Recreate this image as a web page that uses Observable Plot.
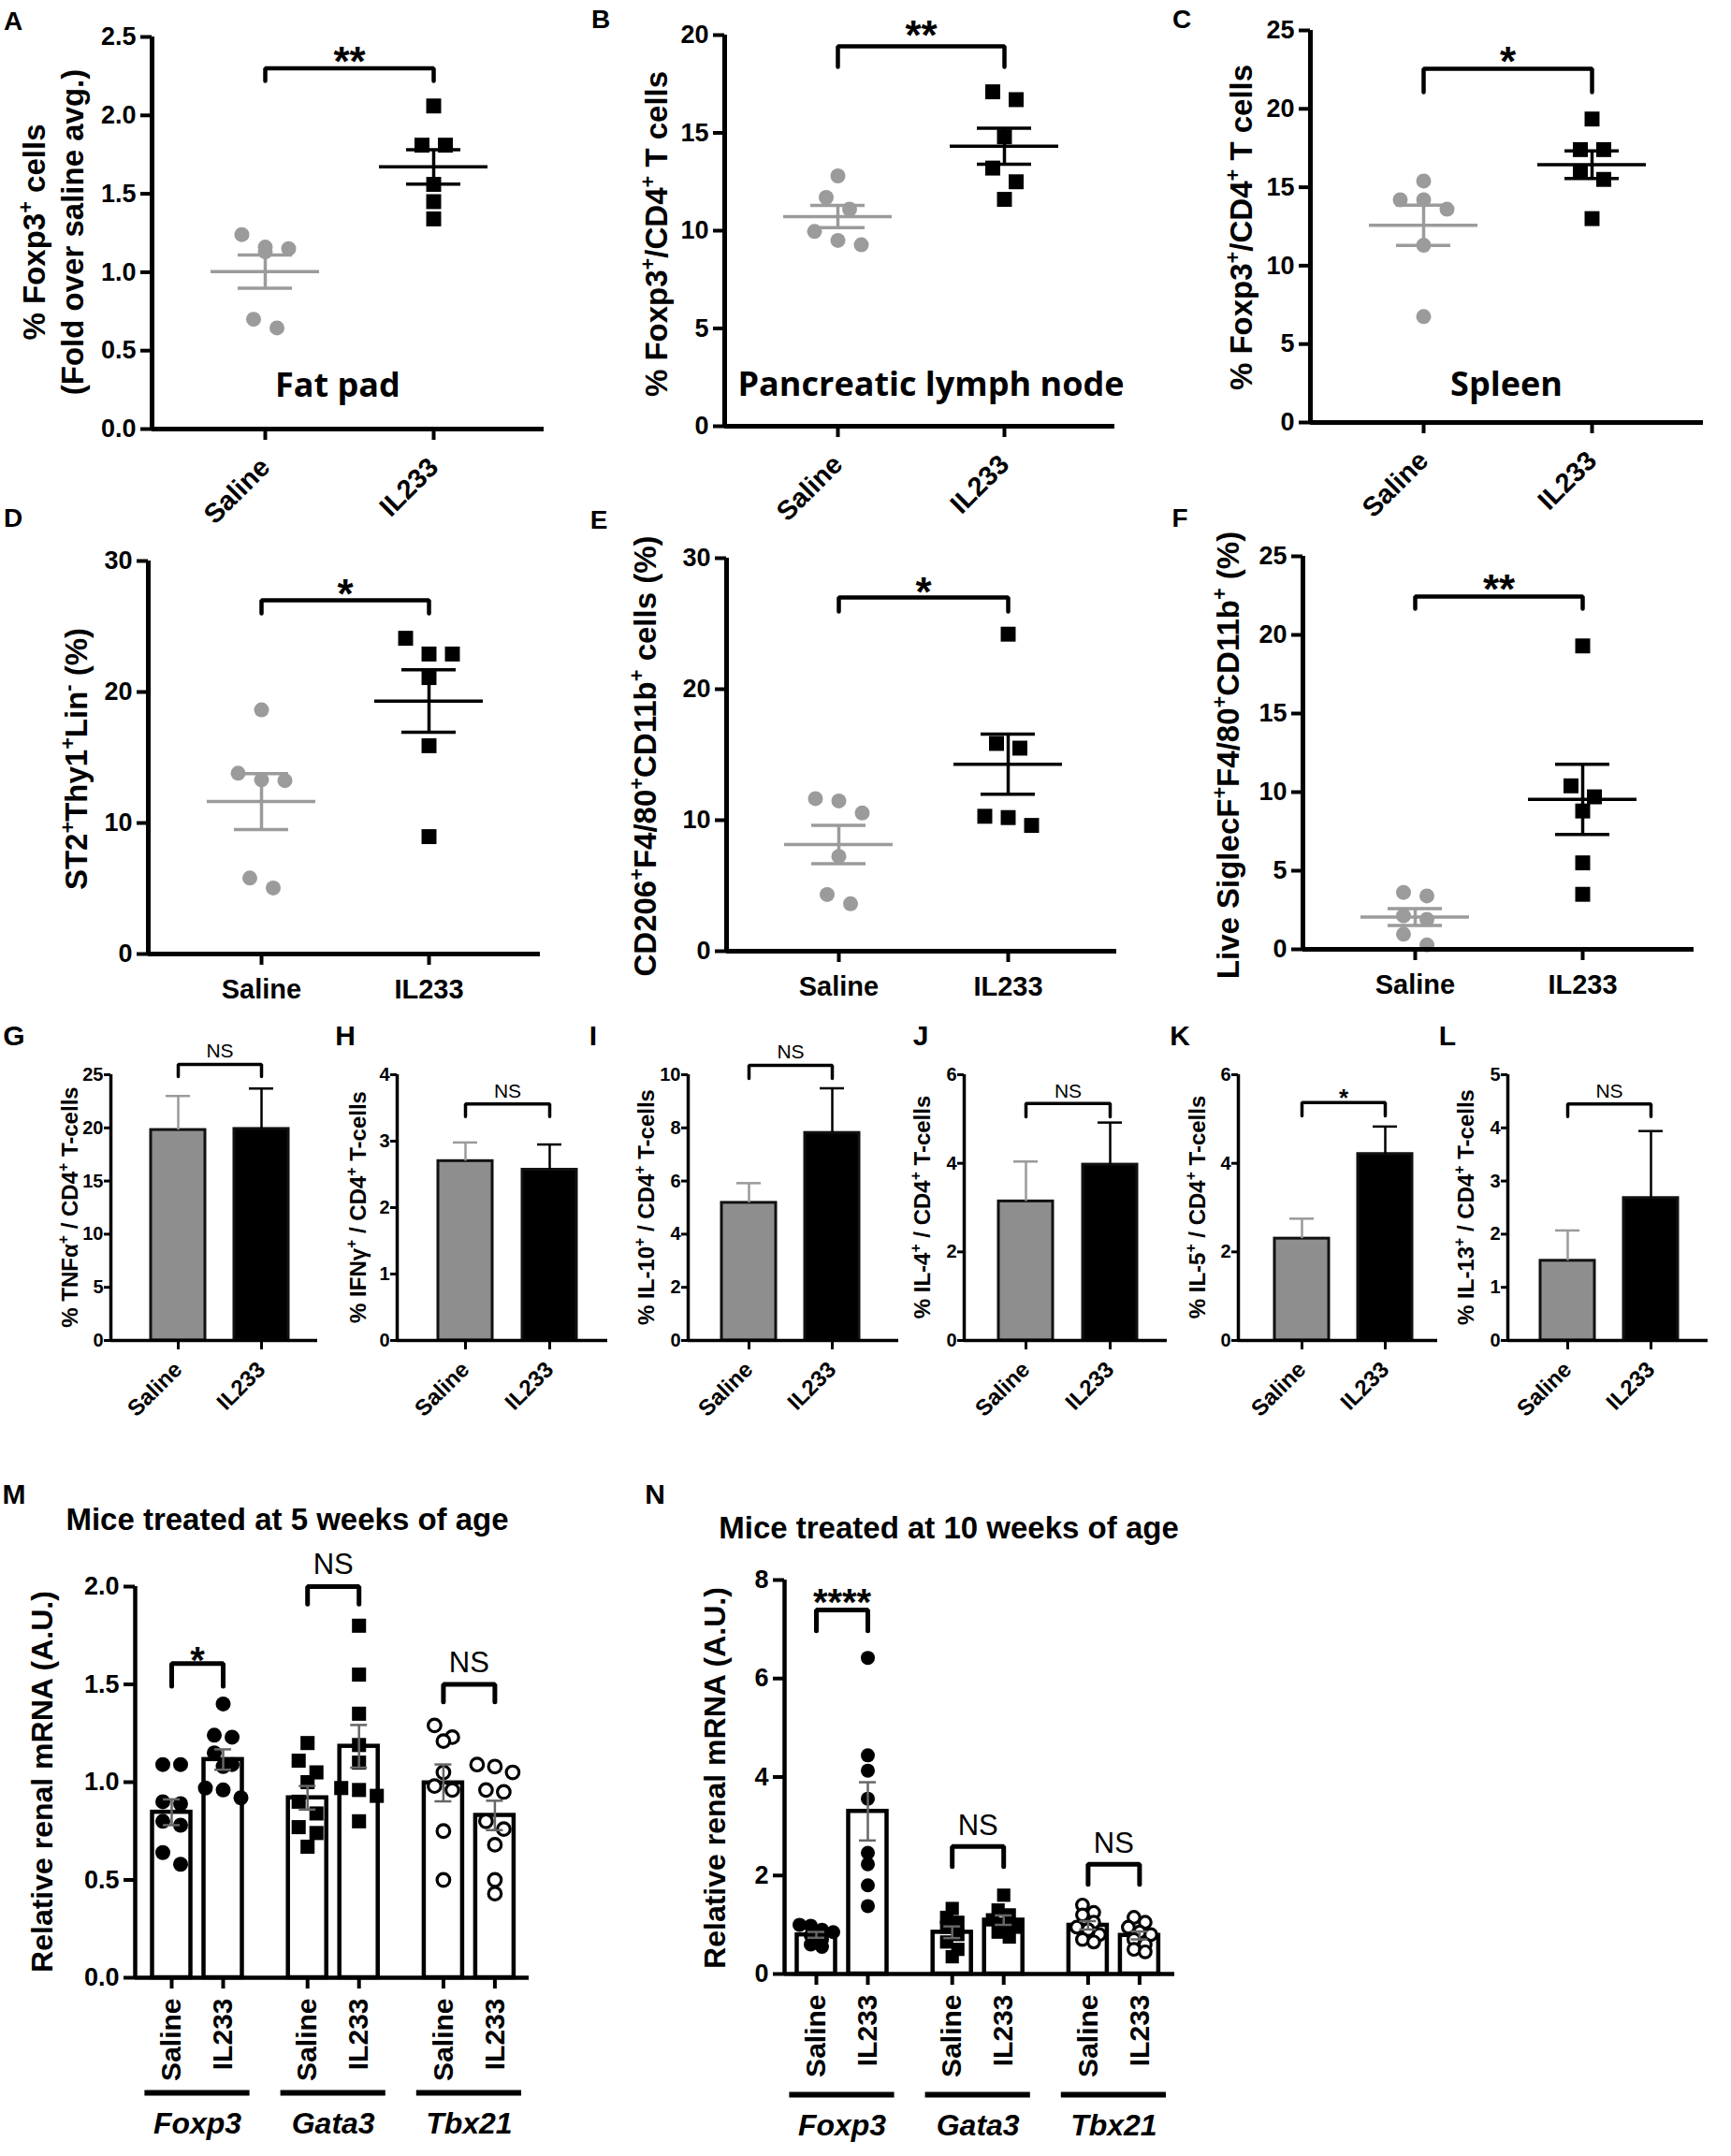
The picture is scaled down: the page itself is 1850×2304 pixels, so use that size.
<!DOCTYPE html>
<html>
<head>
<meta charset="utf-8">
<title>IL233 immune cell figure</title>
<script src="https://cdn.jsdelivr.net/npm/d3@7"></script>
<script src="https://cdn.jsdelivr.net/npm/@observablehq/plot@0.6"></script>
<style>
  html, body { margin: 0; padding: 0; background: #fff; }
  #fig { position: relative; width: 1850px; height: 2304px; background: #fff; overflow: hidden; }
  .panel { position: absolute; }
  .panel svg { display: block; max-width: none !important; }
</style>
</head>
<body>
<div id="fig"></div>
<script>
// ================= DATA =================
const groups = ["Saline", "IL233"];

// A–F : individual animals
const fatPadSaline = [1.24, 1.15, 1.13, 1.16, 0.70, 0.645];
const fatPadIL233  = [2.06, 1.81, 1.81, 1.56, 1.45, 1.34];
const plnSaline    = [12.8, 11.7, 11.1, 9.96, 9.5, 9.28];
const plnIL233     = [17.1, 16.7, 14.8, 13.2, 12.5, 11.6];
const spleenSaline = [15.4, 14.2, 14.2, 13.6, 11.3, 6.75];
const spleenIL233  = [19.35, 17.4, 17.4, 16.0, 15.5, 13.0];
const ilc2Saline   = [18.64, 13.3, 13.24, 13.8, 5.8, 5.04];
const ilc2IL233    = [24.1, 22.9, 22.9, 21.1, 15.9, 8.96];
const m2Saline     = [11.65, 11.47, 10.55, 7.24, 4.33, 3.62];
const m2IL233      = [24.2, 15.86, 15.5, 10.2, 10.3, 9.6];
const eosSaline    = [3.62, 3.4, 2.13, 1.91, 0.96, 0.28];
const eosIL233     = [19.3, 10.4, 9.7, 8.8, 5.5, 3.5];

// G–L : cytokine bars (mean, SEM)
const cytokines      = ["TNFα", "IFNγ", "IL-10", "IL-4", "IL-5", "IL-13"];
const cytoSalineMean = [19.8, 2.70, 5.18, 3.14, 2.30, 1.50];
const cytoSalineSEM  = [3.2, 0.28, 0.74, 0.90, 0.45, 0.57];
const cytoIL233Mean  = [19.9, 2.57, 7.81, 3.97, 4.21, 2.68];
const cytoIL233SEM   = [3.8, 0.38, 1.68, 0.95, 0.62, 1.26];
const cytoSig        = ["NS", "NS", "NS", "NS", "*", "NS"];

// M, N : renal mRNA
const genes = ["Foxp3", "Gata3", "Tbx21"];
const wk5Foxp3Saline  = [1.09, 1.09, 0.90, 0.89, 0.80, 0.78, 0.64, 0.58];
const wk5Foxp3IL233   = [1.40, 1.24, 1.23, 1.15, 1.09, 1.08, 0.97, 0.96, 0.92];
const wk5Gata3Saline  = [1.20, 1.11, 1.05, 1.00, 0.90, 0.84, 0.77, 0.74, 0.67];
const wk5Gata3IL233   = [1.80, 1.55, 1.35, 1.19, 1.10, 0.97, 0.96, 0.93, 0.80];
const wk5Tbx21Saline  = [1.29, 1.23, 1.21, 1.05, 0.98, 0.96, 0.75, 0.50];
const wk5Tbx21IL233   = [1.09, 1.08, 1.05, 0.96, 0.95, 0.80, 0.76, 0.68, 0.50, 0.43];
const wk10Foxp3Saline = [1.00, 0.98, 0.90, 0.85, 0.78, 0.70, 0.60, 0.55];
const wk10Foxp3IL233  = [6.42, 4.44, 4.13, 3.56, 2.46, 2.23, 1.80, 1.38];
const wk10Gata3Saline = [1.33, 1.15, 1.05, 0.95, 0.80, 0.65, 0.50, 0.35];
const wk10Gata3IL233  = [1.60, 1.30, 1.20, 1.10, 1.00, 0.95, 0.85, 0.75];
const wk10Tbx21Saline = [1.40, 1.25, 1.20, 1.05, 0.95, 0.90, 0.80, 0.70, 0.65];
const wk10Tbx21IL233  = [1.15, 1.05, 0.95, 0.85, 0.80, 0.70, 0.60, 0.50, 0.45];

// tick values
const ticksA = [0, 0.5, 1, 1.5, 2, 2.5];
const ticksB = [0, 5, 10, 15, 20];
const ticksC = [0, 5, 10, 15, 20, 25];
const ticksDE = [0, 10, 20, 30];
const ticksF = [0, 5, 10, 15, 20, 25];
const ticksCyto = [[0, 5, 10, 15, 20, 25], [0, 1, 2, 3, 4], [0, 2, 4, 6, 8, 10], [0, 2, 4, 6], [0, 2, 4, 6], [0, 1, 2, 3, 4, 5]];
const ticksM = [0, 0.5, 1, 1.5, 2];
const ticksN = [0, 2, 4, 6, 8];

// ================= HELPERS =================
const SANS = "'Liberation Sans', Arial, Helvetica, sans-serif";
const fig = document.getElementById("fig");
const baseStyle = {fontFamily: SANS, fontWeight: "bold", background: "transparent", overflow: "visible", color: "#000"};

function mount(svg, L, T, W) {
  const div = document.createElement("div");
  div.className = "panel";
  div.style.left = L + "px";
  div.style.top = T + "px";
  div.style.width = W + "px";
  div.appendChild(svg);
  fig.appendChild(div);
}

// row-based symmetric scatter (GraphPad-like), returns pixel offsets
function swarm(values, pxY, T, s) {
  const order = d3.range(values.length).sort((a, b) => values[b] - values[a]);
  const off = new Array(values.length).fill(0);
  let row = [];
  const flush = () => { row.forEach((i, k) => { off[i] = (k - (row.length - 1) / 2) * s; }); row = []; };
  for (const i of order) {
    if (row.length && (values[row[0]] - values[i]) * pxY > T) flush();
    row.push(i);
  }
  flush();
  return off;
}
const sem = v => d3.deviation(v) / Math.sqrt(v.length);

function bracketMarks(x0, x1, b, sw, size, weight) {
  return [
    Plot.line([[x0, b.y - b.leg], [x0, b.y], [x1, b.y], [x1, b.y - b.leg]],
      {x: d => d[0], y: d => d[1], stroke: "#000", strokeWidth: sw, strokeLinejoin: "miter"}),
    Plot.text([b.label], {x: (x0 + x1) / 2, y: b.y, dy: b.dy, text: d => d, lineAnchor: "bottom",
      fontSize: size, fontWeight: weight, fill: "#000"})
  ];
}

// ================= A–F =================
const dotSpecs = [
  {L: 0, T: 0, W: 620, H: 560, axisX: 162, yTop: 39, yZero: 458, xEnd: 581, p0: 283, p1: 463, yMax: 2.5, ticks: ticksA, fmt: ".1f", s: fatPadSaline, i: fatPadIL233, rotate: -45, br: {y: 2.30, leg: 0.08, label: "**", dy: 8}},
  {L: 620, T: 0, W: 620, H: 560, axisX: 774, yTop: 37, yZero: 455, xEnd: 1191, p0: 895, p1: 1073, yMax: 20, ticks: ticksB, fmt: "d", s: plnSaline, i: plnIL233, rotate: -45, br: {y: 19.43, leg: 1.06, label: "**", dy: 4}},
  {L: 1240, T: 0, W: 610, H: 560, axisX: 1400, yTop: 32, yZero: 451, xEnd: 1820, p0: 1521, p1: 1701, yMax: 25, ticks: ticksC, fmt: "d", s: spleenSaline, i: spleenIL233, rotate: -45, br: {y: 22.55, leg: 1.49, label: "*", dy: 7}},
  {L: 0, T: 560, W: 620, H: 530, axisX: 158, yTop: 599, yZero: 1019, xEnd: 577, p0: 279, p1: 458, yMax: 30, ticks: ticksDE, fmt: "d", s: ilc2Saline, i: ilc2IL233, rotate: 0, br: {y: 27.0, leg: 1.0, label: "*", dy: 8}},
  {L: 620, T: 560, W: 620, H: 530, axisX: 776, yTop: 596, yZero: 1016, xEnd: 1193, p0: 896, p1: 1077, yMax: 30, ticks: ticksDE, fmt: "d", s: m2Saline, i: m2IL233, rotate: 0, br: {y: 27.0, leg: 1.07, label: "*", dy: 9}},
  {L: 1240, T: 560, W: 610, H: 530, axisX: 1392, yTop: 594, yZero: 1014, xEnd: 1810, p0: 1512, p1: 1691, yMax: 25, ticks: ticksF, fmt: "d", s: eosSaline, i: eosIL233, rotate: 0, br: {y: 22.44, leg: 0.77, label: "**", dy: 7}},
];

function dotPanel(p) {
  const pxX = p.p1 - p.p0;
  const pxY = (p.yZero - p.yTop) / p.yMax;
  const xLo = (p.axisX - p.p0) / pxX, xHi = (p.xEnd - p.p0) / pxX;
  const series = [p.s, p.i];
  const pts = series.map((vals, g) => {
    const off = swarm(vals, pxY, 18, 25);
    return vals.map((v, k) => ({g, value: v, x: g + off[k] / pxX}));
  });
  const stats = series.map((vals, g) => ({g, mean: d3.mean(vals), sem: sem(vals)}));
  const col = ["#9b9b9b", "#000000"];
  const mhw = 58 / pxX, chw = 29 / pxX;
  const marks = [
    Plot.dot(pts[0], {x: "x", y: "value", r: 8, fill: col[0], symbol: "circle"}),
    Plot.dot(pts[1], {x: "x", y: "value", r: 9, fill: col[1], symbol: "square"}),
  ];
  for (const s of stats) {
    const c = col[s.g];
    marks.push(
      Plot.ruleY([s.mean], {x1: s.g - mhw, x2: s.g + mhw, stroke: c, strokeWidth: 3.5}),
      Plot.ruleY([s.mean - s.sem, s.mean + s.sem], {x1: s.g - chw, x2: s.g + chw, stroke: c, strokeWidth: 3.5}),
      Plot.ruleX([s.g], {y1: s.mean - s.sem, y2: s.mean + s.sem, stroke: c, strokeWidth: 3.5})
    );
  }
  marks.push(
    Plot.ruleY([0], {strokeWidth: 5}),
    Plot.ruleX([xLo], {y1: 0, y2: p.yMax, strokeWidth: 5}),
    Plot.axisY({ticks: p.ticks, tickFormat: p.fmt, tickSize: 12, tickPadding: 5, strokeWidth: 4, fontSize: 27, label: null}),
    Plot.axisX({ticks: [0, 1], tickFormat: k => groups[k], tickSize: 12, strokeWidth: 4, fontSize: 29,
      tickRotate: p.rotate, tickPadding: p.rotate ? 24 : 15, label: null}),
    ...bracketMarks(0, 1, p.br, 4.5, 44, "bold")
  );
  const svg = Plot.plot({
    width: p.W, height: p.H,
    marginLeft: p.axisX - p.L, marginRight: p.L + p.W - p.xEnd,
    marginTop: p.yTop - p.T, marginBottom: p.T + p.H - p.yZero,
    x: {domain: [xLo, xHi], label: null},
    y: {domain: [0, p.yMax], label: null},
    style: baseStyle,
    marks
  });
  mount(svg, p.L, p.T, p.W);
}
dotSpecs.forEach(dotPanel);

// ================= G–L =================
const cytoSpecs = [
  {L: 0, W: 345, axisX: 118, xEnd: 339, p0: 190, p1: 279, br: {y: 25.97, leg: 1.15, dy: -7.5}},
  {L: 345, W: 310, axisX: 424, xEnd: 649, p0: 497, p1: 587, br: {y: 3.56, leg: 0.19, dy: -6.5}},
  {L: 655, W: 310, axisX: 735, xEnd: 960, p0: 800, p1: 889, br: {y: 10.35, leg: 0.49, dy: -7.5}},
  {L: 965, W: 285, axisX: 1030, xEnd: 1247, p0: 1096, p1: 1186, br: {y: 5.35, leg: 0.30, dy: -6.5}},
  {L: 1250, W: 290, axisX: 1323, xEnd: 1536, p0: 1391, p1: 1480, br: {y: 5.37, leg: 0.30, dy: 4}},
  {L: 1540, W: 300, axisX: 1611, xEnd: 1825, p0: 1675, p1: 1764, br: {y: 4.45, leg: 0.24, dy: -6.5}},
];
const cytoT = 1095, cytoH = 445, cytoTop = 1148, cytoZero = 1432;

function barPanel(p, j) {
  const pxX = p.p1 - p.p0;
  const xLo = (p.axisX - p.p0) / pxX, xHi = (p.xEnd - p.p0) / pxX;
  const ticks = ticksCyto[j];
  const yMax = ticks[ticks.length - 1];
  const bars = [
    {g: 0, mean: cytoSalineMean[j], sem: cytoSalineSEM[j]},
    {g: 1, mean: cytoIL233Mean[j], sem: cytoIL233SEM[j]}
  ];
  const hw = 29 / pxX, cw = 13 / pxX;
  const fills = ["#8e8e8e", "#000"], errs = ["#9a9a9a", "#000"];
  const marks = [];
  bars.forEach(b => marks.push(
    Plot.rect([b], {x1: d => d.g - hw, x2: d => d.g + hw, y1: 0, y2: "mean", fill: fills[b.g], stroke: "#111", strokeWidth: 3}),
    Plot.ruleX([b], {x: "g", y1: "mean", y2: d => d.mean + d.sem, stroke: errs[b.g], strokeWidth: 2.5}),
    Plot.ruleY([b], {y: d => d.mean + d.sem, x1: d => d.g - cw, x2: d => d.g + cw, stroke: errs[b.g], strokeWidth: 2.5})
  ));
  const lab = cytoSig[j];
  marks.push(
    Plot.ruleY([0], {strokeWidth: 3.5}),
    Plot.ruleX([xLo], {y1: 0, y2: yMax, strokeWidth: 3.5}),
    Plot.axisY({ticks, tickFormat: "d", tickSize: 7, tickPadding: 1, strokeWidth: 3, fontSize: 20, label: null}),
    Plot.axisX({ticks: [0, 1], tickFormat: k => groups[k], tickSize: 10, strokeWidth: 3, fontSize: 24,
      tickRotate: -45, tickPadding: 17, label: null}),
    ...bracketMarks(0, 1, {...p.br, label: lab}, 3.5, lab === "NS" ? 21 : 26, lab === "NS" ? "normal" : "bold")
  );
  const svg = Plot.plot({
    width: p.W, height: cytoH,
    marginLeft: p.axisX - p.L, marginRight: p.L + p.W - p.xEnd,
    marginTop: cytoTop - cytoT, marginBottom: cytoT + cytoH - cytoZero,
    x: {domain: [xLo, xHi], label: null},
    y: {domain: [0, yMax], label: null},
    style: baseStyle,
    marks
  });
  mount(svg, p.L, cytoT, p.W);
}
cytoSpecs.forEach(barPanel);

// ================= M, N =================
const geneGap = 2.64;
const geneSpecs = [
  {L: 0, T: 1650, W: 640, H: 654, axisX: 144, yTop: 1695, yZero: 2113, xEnd: 565, p0: 183, unit: 55, ticks: ticksM, fmt: ".1f",
   sets: [[wk5Foxp3Saline, wk5Foxp3IL233], [wk5Gata3Saline, wk5Gata3IL233], [wk5Tbx21Saline, wk5Tbx21IL233]],
   T: 14, s: 19, r: 8,
   sig: [{y: 1.607, leg: 0.117, label: "*", dy: 10}, {y: 2.0, leg: 0.09, label: "NS", dy: -14}, {y: 1.5, leg: 0.09, label: "NS", dy: -13}],
   lineDy: 123, labelDy: 166},
  {L: 700, T: 1650, W: 600, H: 654, axisX: 838, yTop: 1688, yZero: 2109, xEnd: 1255, p0: 872, unit: 55, ticks: ticksN, fmt: "d",
   sets: [[wk10Foxp3Saline, wk10Foxp3IL233], [wk10Gata3Saline, wk10Gata3IL233], [wk10Tbx21Saline, wk10Tbx21IL233]],
   T: 9, s: 12, r: 7.5,
   sig: [{y: 7.39, leg: 0.42, label: "****", dy: 5}, {y: 2.59, leg: 0.41, label: "NS", dy: -12}, {y: 2.23, leg: 0.41, label: "NS", dy: -12}],
   lineDy: 129, labelDy: 172},
];

function genePanel(p) {
  const u = p.unit;
  const yMax = p.ticks[p.ticks.length - 1];
  const pxY = (p.yZero - p.yTop) / yMax;
  const xLo = (p.axisX - p.p0) / u, xHi = (p.xEnd - p.p0) / u;
  const pts = [], stats = [];
  p.sets.forEach((pair, g) => pair.forEach((vals, k) => {
    const pos = g * geneGap + k;
    const off = swarm(vals, pxY, p.T, p.s);
    vals.forEach((v, i) => pts.push({g, k, value: v, x: pos + off[i] / u}));
    stats.push({g, k, pos, mean: d3.mean(vals), sem: sem(vals)});
  }));
  const hw = 20.5 / u, cw = 9 / u;
  const symStyles = [
    {symbol: "circle", fill: "#000", r: p.r},
    {symbol: "square", fill: "#000", r: p.r + 0.5},
    {symbol: "circle", fill: "#fff", stroke: "#000", strokeWidth: 3.2, r: p.r - 1.2}
  ];
  const tickLabel = new Map(stats.map(d => [d.pos, groups[d.k]]));
  const centers = genes.map((name, g) => ({name, c: g * geneGap + 0.5}));
  const marks = [
    Plot.rect(stats, {x1: d => d.pos - hw, x2: d => d.pos + hw, y1: 0, y2: "mean", fill: "#fff", stroke: "#000", strokeWidth: 4.5}),
    ...genes.map((_, g) => Plot.dot(pts.filter(d => d.g === g), {x: "x", y: "value", ...symStyles[g]})),
    Plot.ruleX(stats, {x: "pos", y1: d => d.mean - d.sem, y2: d => d.mean + d.sem, stroke: "#666", strokeWidth: 2.5}),
    Plot.ruleY(stats, {y: d => d.mean + d.sem, x1: d => d.pos - cw, x2: d => d.pos + cw, stroke: "#666", strokeWidth: 2.5}),
    Plot.ruleY(stats, {y: d => d.mean - d.sem, x1: d => d.pos - cw, x2: d => d.pos + cw, stroke: "#666", strokeWidth: 2.5}),
    Plot.ruleY([0], {strokeWidth: 4.5}),
    Plot.ruleX([xLo], {y1: 0, y2: yMax, strokeWidth: 4.5}),
    Plot.axisY({ticks: p.ticks, tickFormat: p.fmt, tickSize: 12, tickPadding: 5, strokeWidth: 4, fontSize: 27, label: null}),
    Plot.axisX({ticks: stats.map(d => d.pos), tickFormat: d => tickLabel.get(d), tickRotate: -90, tickSize: 12,
      tickPadding: 10, strokeWidth: 4, fontSize: 30, label: null}),
    Plot.ruleY(centers, {y: () => 0, x1: d => d.c - 1.02, x2: d => d.c + 1.02, dy: p.lineDy, strokeWidth: 6}),
    Plot.text(centers, {x: "c", y: () => 0, text: "name", dy: p.labelDy, lineAnchor: "bottom", fontSize: 32,
      fontStyle: "italic", fontWeight: "bold"})
  ];
  p.sig.forEach((b, g) => marks.push(...bracketMarks(g * geneGap, g * geneGap + 1, b, 5,
    b.label === "NS" ? 31 : 40, b.label === "NS" ? "normal" : "bold")));
  const svg = Plot.plot({
    width: p.W, height: p.H,
    marginLeft: p.axisX - p.L, marginRight: p.L + p.W - p.xEnd,
    marginTop: p.yTop - p.T, marginBottom: p.T + p.H - p.yZero,
    x: {domain: [xLo, xHi], label: null},
    y: {domain: [0, yMax], label: null},
    style: baseStyle,
    marks
  });
  mount(svg, p.L, p.T, p.W);
}
geneSpecs.forEach(genePanel);

// ================= TEXT OVERLAY =================
const ov = d3.select(fig).append("svg")
  .attr("width", 1850).attr("height", 2304)
  .style("position", "absolute").style("left", "0px").style("top", "0px")
  .style("pointer-events", "none");

function rich(sel, str, size) {
  const parts = str.split(/(\^[+\-])/);
  const shift = size * 0.38;
  let raised = false;
  parts.forEach(part => {
    if (!part) return;
    if (part[0] === "^") {
      sel.append("tspan").attr("font-size", size * 0.66).attr("dy", raised ? 0 : -shift).text(part[1]);
      raised = true;
    } else {
      sel.append("tspan").attr("dy", raised ? shift : 0).text(part);
      raised = false;
    }
  });
}
function addText(str, x, y, {size = 28, weight = "bold", family = SANS, anchor = "middle", rotate = 0, italic = false} = {}) {
  const t = ov.append("text")
    .attr("font-size", size).attr("font-weight", weight).attr("font-family", family)
    .attr("text-anchor", anchor).attr("fill", "#000")
    .attr("font-style", italic ? "italic" : "normal");
  if (rotate) t.attr("transform", `translate(${x},${y}) rotate(${rotate})`);
  else t.attr("x", x).attr("y", y);
  rich(t, str, size);
}
// centred (cap-centre) helpers
const letter = (s, xc, yc, size, weight) => addText(s, xc, yc + 0.358 * size, {size, weight});
const ytitle = (s, xc, yc, size) => addText(s, xc + 0.358 * size, yc, {size, rotate: -90});

// panel letters
[["A", 14, 22], ["B", 642, 20], ["C", 1263, 20], ["D", 14, 553], ["E", 640, 555], ["F", 1261, 553]]
  .forEach(([s, x, y]) => letter(s, x, y, 28, "bold"));
[["G", 15], ["H", 369], ["I", 634], ["J", 984], ["K", 1261], ["L", 1547]]
  .forEach(([s, x]) => letter(s, x, 1106, 30, "bold"));
letter("M", 15, 1596, 30, "bold");
letter("N", 700, 1596, 30, "bold");

// y titles A–F
ytitle("% Foxp3^+ cells", 36, 248, 33);
ytitle("(Fold over saline avg.)", 77, 248, 33);
ytitle("% Foxp3^+/CD4^+ T cells", 701, 250, 33);
ytitle("% Foxp3^+/CD4^+ T cells", 1326, 243, 33);
ytitle("ST2^+Thy1^+Lin^- (%)", 81, 811, 33);
ytitle("CD206^+F4/80^+CD11b^+ cells (%)", 689, 808, 33);
ytitle("Live SiglecF^+F4/80^+CD11b^+ (%)", 1312, 807, 33);

// tissue labels
const OPEN = "'Open Sans', 'Noto Sans', sans-serif";
addText("Fat pad", 361, 424, {size: 36, weight: 700, family: OPEN});
addText("Pancreatic lymph node", 995, 423, {size: 36, weight: 700, family: OPEN});
addText("Spleen", 1610, 423, {size: 36, weight: 700, family: OPEN});

// y titles G–L
const cytoTitleX = [74, 382, 690, 985, 1279, 1566];
cytokines.forEach((c, j) => ytitle(`% ${c}^+ / CD4^+ T-cells`, cytoTitleX[j], 1290, 24));

// M, N titles
addText("Mice treated at 5 weeks of age", 307, 1635, {size: 33});
addText("Mice treated at 10 weeks of age", 1014, 1644, {size: 33});
ytitle("Relative renal mRNA (A.U.)", 45, 1904, 32);
ytitle("Relative renal mRNA (A.U.)", 764, 1900, 32);
</script>
</body>
</html>
